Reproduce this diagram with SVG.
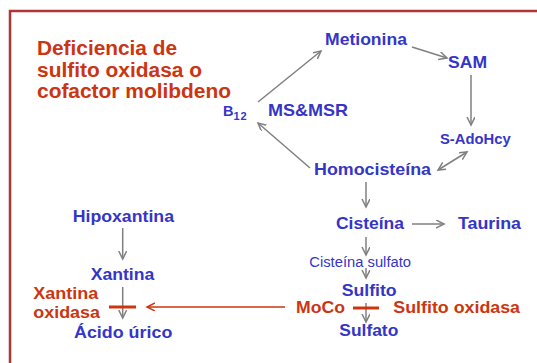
<svg xmlns="http://www.w3.org/2000/svg" width="537" height="363" viewBox="0 0 537 363">
<defs>
<style>
text{font-family:"Liberation Sans",Arial,sans-serif;font-weight:bold;}
.b{fill:#3535c8;font-size:17px;}
.r{fill:#cc3510;font-size:17px;}
.t{fill:#cc3510;font-size:19.5px;}
.g{stroke:#808080;stroke-width:1.5;fill:none;}
.rl{stroke:#cc3510;stroke-width:1.5;fill:none;}
.bar{stroke:#cc3510;stroke-width:3;}
.big{font-size:14.5px;}
.sub{font-size:11px;}
</style>
<marker id="ah" markerUnits="userSpaceOnUse" markerWidth="10" markerHeight="10" refX="8" refY="4" orient="auto-start-reverse" viewBox="0 0 10 10">
<path d="M0,0 L8,4 L0,8" fill="none" stroke="#808080" stroke-width="1.5"/>
</marker>
<marker id="ahr" markerUnits="userSpaceOnUse" markerWidth="10" markerHeight="10" refX="8" refY="4" orient="auto" viewBox="0 0 10 10">
<path d="M0,0 L8,4 L0,8" fill="none" stroke="#cc3510" stroke-width="1.5"/>
</marker>
</defs>
<rect x="10" y="11" width="540" height="360" fill="none" stroke="#b03535" stroke-width="2.5"/>
<g id="title">
<text class="t" x="37" y="55" textLength="140" lengthAdjust="spacingAndGlyphs">Deficiencia de</text>
<text class="t" x="37" y="77" textLength="165" lengthAdjust="spacingAndGlyphs">sulfito oxidasa o</text>
<text class="t" x="37" y="98" textLength="194" lengthAdjust="spacingAndGlyphs">cofactor molibdeno</text>
</g>
<g id="connectors">
<line class="g" x1="258" y1="102" x2="321" y2="51" marker-end="url(#ah)"/>
<line class="g" x1="412" y1="47" x2="447" y2="58" marker-end="url(#ah)"/>
<line class="g" x1="471" y1="75" x2="471" y2="125" marker-end="url(#ah)"/>
<line class="g" x1="438" y1="170" x2="467" y2="152" marker-start="url(#ah)" marker-end="url(#ah)"/>
<line class="g" x1="310" y1="168" x2="258" y2="123" marker-end="url(#ah)"/>
<line class="g" x1="366" y1="182" x2="366" y2="207" marker-end="url(#ah)"/>
<line class="g" x1="412" y1="224" x2="444" y2="224" marker-end="url(#ah)"/>
<line class="g" x1="366" y1="237" x2="366" y2="255" marker-end="url(#ah)"/>
<line class="g" x1="366" y1="268" x2="366" y2="278" marker-end="url(#ah)"/>
<line class="g" x1="366" y1="303" x2="366" y2="322" marker-end="url(#ah)"/>
<line class="g" x1="122.7" y1="228" x2="122.7" y2="259" marker-end="url(#ah)"/>
<line class="g" x1="122.7" y1="287" x2="122.7" y2="318" marker-end="url(#ah)"/>
<line class="rl" x1="285" y1="307" x2="147" y2="307" marker-end="url(#ahr)"/>
<line class="bar" x1="353" y1="308" x2="379" y2="308"/>
<line class="bar" x1="109" y1="307" x2="136" y2="307"/>
</g>
<g id="metionina"><text class="b" x="325" y="45" textLength="82" lengthAdjust="spacingAndGlyphs">Metionina</text></g>
<g id="sam"><text class="b" x="448" y="68" textLength="39" lengthAdjust="spacingAndGlyphs">SAM</text></g>
<g id="b12"><text class="b big" x="223" y="116">B<tspan class="sub" x="233.5" y="119.5" letter-spacing="1">12</tspan></text></g>
<g id="msmsr"><text class="b" x="268" y="116" textLength="80" lengthAdjust="spacingAndGlyphs">MS&amp;MSR</text></g>
<g id="sadohcy"><text class="b" x="440" y="144" style="font-size:15px" textLength="70.7" lengthAdjust="spacingAndGlyphs">S-AdoHcy</text></g>
<g id="homocisteina"><text class="b" x="314" y="175" textLength="117" lengthAdjust="spacingAndGlyphs">Homocisteína</text></g>
<g id="cisteina"><text class="b" x="336" y="229.3" textLength="68" lengthAdjust="spacingAndGlyphs">Cisteína</text></g>
<g id="taurina"><text class="b" x="458" y="229.3" textLength="63" lengthAdjust="spacingAndGlyphs">Taurina</text></g>
<g id="cisteinasulfato"><text class="b" x="309.3" y="267.3" style="font-size:14px;font-weight:normal" textLength="101.7" lengthAdjust="spacingAndGlyphs">Cisteína sulfato</text></g>
<g id="sulfito"><text class="b" x="341.7" y="296" textLength="55" lengthAdjust="spacingAndGlyphs">Sulfito</text></g>
<g id="moco"><text class="r" x="296" y="313.3" textLength="49" lengthAdjust="spacingAndGlyphs">MoCo</text></g>
<g id="sulfitooxidasa"><text class="r" x="393.3" y="313.3" textLength="126.7" lengthAdjust="spacingAndGlyphs">Sulfito oxidasa</text></g>
<g id="sulfato"><text class="b" x="339.3" y="336" textLength="59" lengthAdjust="spacingAndGlyphs">Sulfato</text></g>
<g id="hipoxantina"><text class="b" x="72.7" y="221.7" textLength="101.3" lengthAdjust="spacingAndGlyphs">Hipoxantina</text></g>
<g id="xantina"><text class="b" x="90.7" y="280" textLength="63.6" lengthAdjust="spacingAndGlyphs">Xantina</text></g>
<g id="xantinaoxidasa">
<text class="r" x="33.3" y="299.3" textLength="65" lengthAdjust="spacingAndGlyphs">Xantina</text>
<text class="r" x="33.3" y="317.7" textLength="66.7" lengthAdjust="spacingAndGlyphs">oxidasa</text>
</g>
<g id="acidourico"><text class="b" x="74" y="337.7" textLength="98.3" lengthAdjust="spacingAndGlyphs">Ácido úrico</text></g>
</svg>
